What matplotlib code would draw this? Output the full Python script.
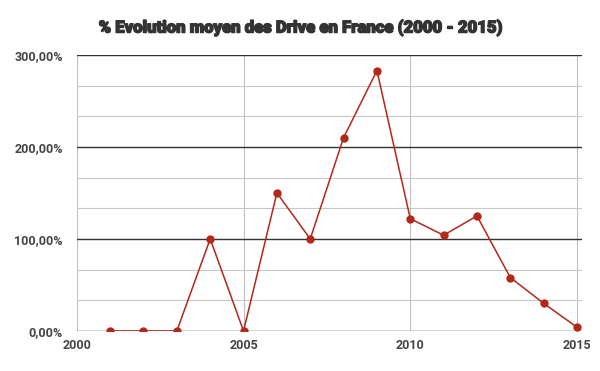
import matplotlib
matplotlib.use("Agg")
import matplotlib.pyplot as plt
import matplotlib.patheffects as pe
from matplotlib.ticker import MultipleLocator, FuncFormatter

years = [2001, 2002, 2003, 2004, 2005, 2006, 2007, 2008, 2009, 2010, 2011, 2012, 2013, 2014, 2015]
evolution = [0, 0, 0, 100, 0, 150, 100, 210, 283, 122, 104, 125, 58, 30, 4]
year_ticks = [2000, 2005, 2010, 2015]
pct_ticks = [0, 100, 200, 300]

red = "#b2281a"

fig = plt.figure(figsize=(6, 3.71), dpi=100)
ax = fig.add_axes([0.128, 0.108, 0.842, 0.744])

ax.plot(years, evolution, color=red, lw=1.1, marker="o", ms=5, zorder=3)

ax.set_xlim(2000, 2015.15)
ax.set_ylim(0, 300)
ax.set_xticks(year_ticks)
ax.set_yticks(pct_ticks)
ax.yaxis.set_minor_locator(MultipleLocator(100 / 3))
ax.yaxis.set_major_formatter(FuncFormatter(lambda v, p: f"{v:.2f}%".replace(".", ",")))

ax.grid(axis="y", which="major", color="#333333", lw=1.0)
ax.grid(axis="y", which="minor", color="#c8c8c8", lw=0.8)
ax.grid(axis="x", which="major", color="#c0c0c0", lw=0.8)
ax.set_axisbelow(True)

for s in ax.spines.values():
    s.set_visible(False)
ax.tick_params(which="both", length=0)
ax.tick_params(axis="y", pad=10)
ax.tick_params(axis="x", pad=6)
for lab in ax.get_xticklabels() + ax.get_yticklabels():
    lab.set_fontfamily("Roboto")
    lab.set_fontweight("bold")
    lab.set_fontsize(9)
    lab.set_color("#444444")

# titre en gras epais
fig.text(0.5, 0.925, "% Evolution moyen des Drive en France (2000 - 2015)",
         ha="center", va="center", fontsize=12, fontweight="black",
         family="Roboto", color="#333333",
         path_effects=[pe.withStroke(linewidth=1.0, foreground="#333333")])

fig.savefig("out.png", dpi=100)
